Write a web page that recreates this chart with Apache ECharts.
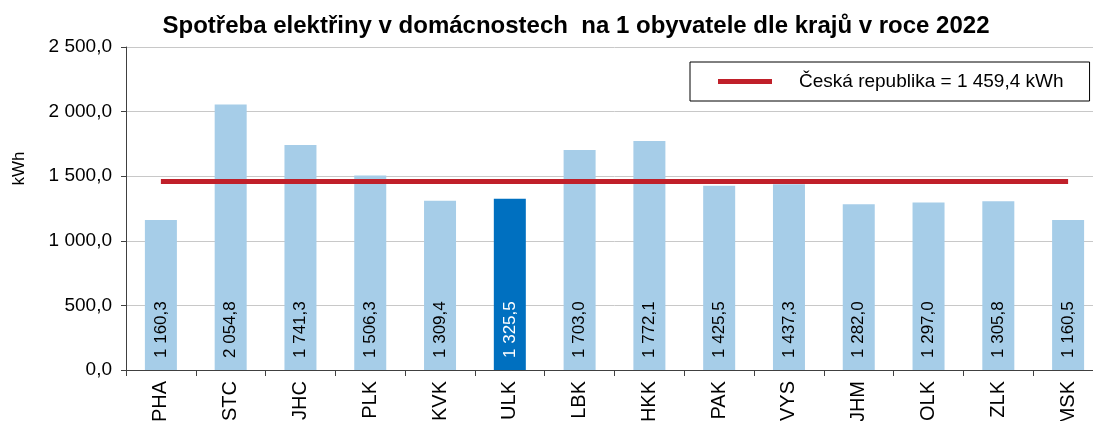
<!DOCTYPE html>
<html>
<head>
<meta charset="utf-8">
<script src="https://cdn.jsdelivr.net/npm/echarts@6/dist/echarts.min.js"></script>
<style>
  html, body { margin: 0; padding: 0; background: #fff; overflow: hidden; }
  /* graf v originále přesahuje pravý okraj obrázku o ~10 px */
  #chart { width: 1103px; height: 421px; }
</style>
</head>
<body>
<div id="chart"></div>
<script>
// kraje a spotřeba na obyvatele (kWh)
const regions = ['PHA', 'STC', 'JHC', 'PLK', 'KVK', 'ULK', 'LBK', 'HKK', 'PAK', 'VYS', 'JHM', 'OLK', 'ZLK', 'MSK'];
const consumption = [1160.3, 2054.8, 1741.3, 1506.3, 1309.4, 1325.5, 1703.0, 1772.1, 1425.5, 1437.3, 1282.0, 1297.0, 1305.8, 1160.5];
const highlighted = ['ULK'];
const czAverage = 1459.4;
const yTicks = [0, 500, 1000, 1500, 2000, 2500];

const FONT = '"Liberation Sans", Arial, sans-serif';

// český formát čísla: mezera jako oddělovač tisíců, čárka jako desetinná
function fmtCz(v) {
  const parts = v.toFixed(1).split('.');
  return parts[0].replace(/\B(?=(\d{3})+(?!\d))/g, ' ') + ',' + parts[1];
}

const chart = echarts.init(document.getElementById('chart'), null, { renderer: 'canvas' });

const barData = consumption.map((v, i) => {
  const hi = highlighted.includes(regions[i]);
  return {
    value: v,
    itemStyle: { color: hi ? '#0070C0' : '#A6CDE8' },
    label: { color: hi ? '#ffffff' : '#000000' }
  };
});

const option = {
  backgroundColor: '#ffffff',
  animation: false,
  title: {
    text: 'Spotřeba elektřiny v domácnostech  na 1 obyvatele dle krajů v roce 2022',
    left: 571,
    textAlign: 'center',
    top: 9,
    textStyle: { fontFamily: FONT, fontSize: 24, fontWeight: 'bold', color: '#000' }
  },
  legend: {
    left: 690,
    top: 62,
    data: ['Česká republika = ' + fmtCz(czAverage) + ' kWh'],
    borderColor: '#000',
    borderWidth: 1,
    padding: [10, 26, 10, 28],
    itemWidth: 54,
    itemHeight: 5,
    icon: 'rect',
    textStyle: { fontFamily: FONT, fontSize: 19, color: '#000', padding: [0, 0, 0, 22] }
  },
  // popisky os v originále přetékají přes spodní okraj, proto bez ořezu
  grid: { left: 126, right: 0, top: 47, bottom: 51, outerBoundsMode: 'none' },
  xAxis: {
    type: 'category',
    data: regions,
    axisLine: { lineStyle: { color: '#404040', width: 1 } },
    axisTick: { show: true, length: 6, lineStyle: { color: '#404040' } },
    axisLabel: { rotate: 90, margin: 11, fontFamily: FONT, fontSize: 20, color: '#000' }
  },
  yAxis: {
    type: 'value',
    min: yTicks[0],
    max: yTicks[yTicks.length - 1],
    interval: yTicks[1] - yTicks[0],
    name: 'kWh',
    nameLocation: 'middle',
    nameGap: 98,
    nameRotate: 90,
    nameTextStyle: { fontFamily: FONT, fontSize: 17, color: '#000', padding: [0, 0, 0, 80] },
    axisLine: { show: true, lineStyle: { color: '#404040', width: 1 } },
    axisTick: { show: true, length: 5, lineStyle: { color: '#404040' } },
    axisLabel: { margin: 14, fontFamily: FONT, fontSize: 19, color: '#000', formatter: fmtCz },
    splitLine: { lineStyle: { color: '#C8C8C8', width: 1 } }
  },
  series: [
    {
      name: 'Spotřeba',
      type: 'bar',
      barWidth: 32,
      data: barData,
      label: {
        show: true,
        position: 'insideBottom',
        rotate: 90,
        align: 'left',
        verticalAlign: 'middle',
        distance: 12,
        fontFamily: FONT,
        fontSize: 17,
        formatter: p => fmtCz(p.value)
      }
    },
    {
      name: 'Česká republika = ' + fmtCz(czAverage) + ' kWh',
      type: 'line',
      data: regions.map(() => czAverage),
      symbol: 'none',
      itemStyle: { color: '#C0202A' },
      lineStyle: { color: '#C0202A', width: 5 },
      z: 5
    }
  ]
};

chart.setOption(option);
window.addEventListener('resize', () => chart.resize());
</script>
</body>
</html>
